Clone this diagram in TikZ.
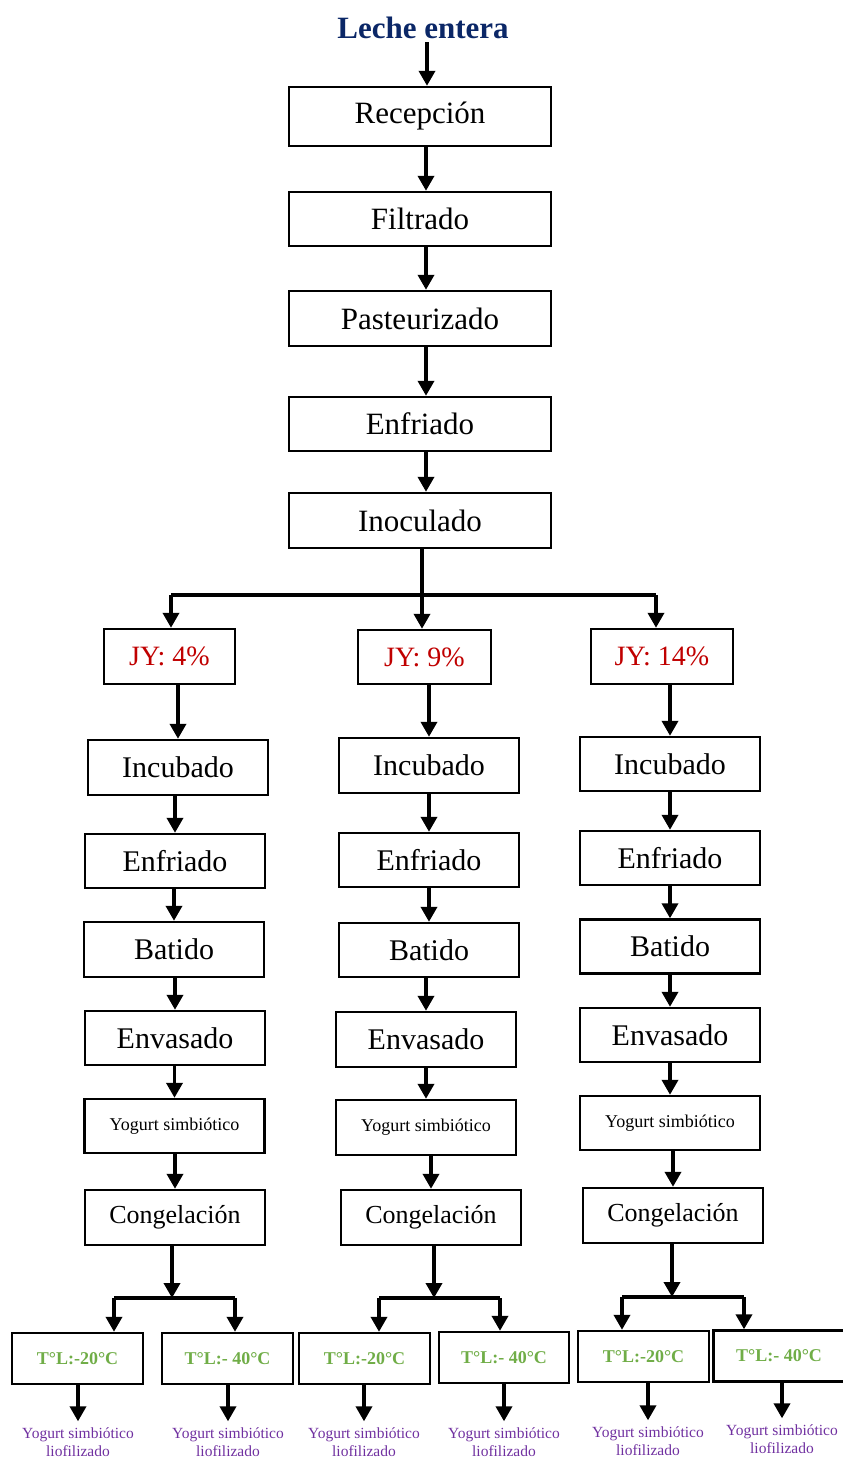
\documentclass[tikz,border=0pt]{standalone}
\usepackage{fontspec}
\setmainfont{Liberation Serif}
\usepackage{xcolor}
\usepackage{tikz}
\usetikzlibrary{arrows.meta, positioning, calc}
\definecolor{titleblue}{HTML}{0B2767}
\definecolor{jyred}{HTML}{C00000}
\definecolor{tgreen}{HTML}{70AD47}
\definecolor{prodpurple}{HTML}{7030A0}
\tikzset{
    proc/.style={
        rectangle,
        draw=black,
        line width=2.4pt,
        inner sep=0pt,
        minimum width=180pt,
        minimum height=54pt,
        font=\fontsize{30}{36}\selectfont,
    },
    main/.style={
        proc,
        minimum width=262pt,
        font=\fontsize{31}{36}\selectfont,
    },
    jy/.style={
        proc,
        text=jyred,
        minimum width=131pt,
        minimum height=55pt,
        font=\fontsize{28}{32}\selectfont,
    },
    temp/.style={
        proc,
        text=tgreen,
        minimum width=131pt,
        minimum height=51pt,
        font=\fontsize{18}{20}\selectfont\bfseries,
    },
    prod/.style={
        align=center,
        text=prodpurple,
        inner sep=1pt,
        font=\fontsize{15.5}{18}\selectfont,
    },
    flow/.style={
        -{Triangle[width=16pt,length=15pt]},
        line width=3.6pt,
    },
    bar/.style={
        line width=4pt,
    },
}
\begin{document}
\begin{tikzpicture}[x=1pt,y=-1pt]
          \useasboundingbox (0,0) rectangle (843,1459);
          % main line
          \node [font=\fontsize{31}{36}\selectfont\bfseries, text=titleblue] (title) at (423,28) {Leche entera};
          \node [main, minimum height=59pt] (rec) at (420,116.5) {Recepción};
          \node [main] (fil) at (420,219) {Filtrado};
          \node [main, minimum height=55pt] (pas) at (420,318.5) {Pasteurizado};
          \node [main] (enf) at (420,424) {Enfriado};
          \node [main, minimum height=55pt] (inoc) at (420,520.5) {Inoculado};

          \draw[flow] ([xshift=4pt]title.south) -- ([xshift=7pt]rec.north);
          \draw[flow] ([xshift=6pt]rec.south) -- ([xshift=6pt]fil.north);
          \draw[flow] ([xshift=6pt]fil.south) -- ([xshift=6pt]pas.north);
          \draw[flow] ([xshift=6pt]pas.south) -- ([xshift=6pt]enf.north);
          \draw[flow] ([xshift=6pt]enf.south) -- ([xshift=6pt]inoc.north);

          % JY
          \node [jy] (jy1) at (169.5,656.5) {JY: 4\%};
          \node [jy, minimum width=133pt, minimum height=54pt] (jy2) at (424.5,657) {JY: 9\%};
          \node [jy, minimum width=142pt] (jy3) at (662,656.5) {JY: 14\%};

          \coordinate (split) at (422,595);
          \coordinate (sl) at (171,595);
          \coordinate (sr) at (656,595);
          \draw[bar] (sl) -- (sr);
          \draw[flow] (split |- inoc.south) -- (split |- jy2.north);
          \draw[flow] (sl) -- (sl |- jy1.north);
          \draw[flow] (sr) -- (sr |- jy3.north);

          % column 1
          \node [proc, minimum height=55pt] (inc1) at (178,767.5) {Incubado};
          \node [proc] (enf1) at (175,861) {Enfriado};
          \node [proc, minimum height=55pt] (bat1) at (174,949.5) {Batido};
          \node [proc] (env1) at (175,1038) {Envasado};
          \node [proc, font=\fontsize{18}{20}\selectfont] (yog1) at (174.5,1126) {Yogurt simbiótico};
          \node [proc, minimum height=55pt, font=\fontsize{26}{30}\selectfont] (cong1) at (175,1217.5) {Congelación};

          % column 2
          \node [proc, minimum height=55pt] (inc2) at (429,765.5) {Incubado};
          \node [proc] (enf2) at (429,860) {Enfriado};
          \node [proc] (bat2) at (429,950) {Batido};
          \node [proc, minimum height=55pt] (env2) at (426,1039.5) {Envasado};
          \node [proc, minimum height=55pt, font=\fontsize{18}{20}\selectfont] (yog2) at (426,1127.5) {Yogurt simbiótico};
          \node [proc, minimum height=55pt, font=\fontsize{26}{30}\selectfont] (cong2) at (431,1217.5) {Congelación};

          % column 3
          \node [proc] (inc3) at (670,764) {Incubado};
          \node [proc] (enf3) at (670,858) {Enfriado};
          \node [proc] (bat3) at (670,946.5) {Batido};
          \node [proc] (env3) at (670,1035) {Envasado};
          \node [proc, font=\fontsize{18}{20}\selectfont] (yog3) at (670,1123) {Yogurt simbiótico};
          \node [proc, minimum height=55pt, font=\fontsize{26}{30}\selectfont] (cong3) at (673,1215.5) {Congelación};

          \draw[flow] (inc1.north |- jy1.south) -- (inc1.north);
          \draw[flow] (enf1.north |- inc1.south) -- (enf1.north);
          \draw[flow] (bat1.north |- enf1.south) -- (bat1.north);
          \draw[flow] (env1.north |- bat1.south) -- (env1.north);
          \draw[flow] (yog1.north |- env1.south) -- (yog1.north);
          \draw[flow] (cong1.north |- yog1.south) -- (cong1.north);

          \draw[flow] (inc2.north |- jy2.south) -- (inc2.north);
          \draw[flow] (enf2.north |- inc2.south) -- (enf2.north);
          \draw[flow] (bat2.north |- enf2.south) -- (bat2.north);
          \draw[flow] (env2.north |- bat2.south) -- (env2.north);
          \draw[flow] (yog2.north |- env2.south) -- (yog2.north);
          \draw[flow] (cong2.north |- yog2.south) -- (cong2.north);

          \draw[flow] (inc3.north |- jy3.south) -- (inc3.north);
          \draw[flow] (enf3.north |- inc3.south) -- (enf3.north);
          \draw[flow] (bat3.north |- enf3.south) -- (bat3.north);
          \draw[flow] (env3.north |- bat3.south) -- (env3.north);
          \draw[flow] (yog3.north |- env3.south) -- (yog3.north);
          \draw[flow] (cong3.north |- yog3.south) -- (cong3.north);

          % freezing temperatures
          \node [temp] (t11) at (77.5,1358.5) {T°L:-20°C};
          \node [temp] (t12) at (227.5,1358.5) {T°L:- 40°C};
          \node [temp] (t21) at (364.5,1358.5) {T°L:-20°C};
          \node [temp, minimum width=130pt] (t22) at (504,1357.5) {T°L:- 40°C};
          \node [temp] (t31) at (643.5,1356.5) {T°L:-20°C};
          \node [temp] (t32) at (779,1356) {T°L:- 40°C};

          \coordinate (m1) at (172,1298);
          \coordinate (m1l) at (114,1298);
          \coordinate (m1r) at (235,1298);
          \coordinate (m2) at (434,1298);
          \coordinate (m2l) at (379,1298);
          \coordinate (m2r) at (500,1298);
          \coordinate (m3) at (672,1297);
          \coordinate (m3l) at (622,1297);
          \coordinate (m3r) at (744,1297);

          \draw[flow] (m1 |- cong1.south) -- (m1);
          \draw[bar] (m1l) -- (m1r);
          \draw[flow] (m1l) -- (m1l |- t11.north);
          \draw[flow] (m1r) -- (m1r |- t12.north);

          \draw[flow] (m2 |- cong2.south) -- (m2);
          \draw[bar] (m2l) -- (m2r);
          \draw[flow] (m2l) -- (m2l |- t21.north);
          \draw[flow] (m2r) -- (m2r |- t22.north);

          \draw[flow] (m3 |- cong3.south) -- (m3);
          \draw[bar] (m3l) -- (m3r);
          \draw[flow] (m3l) -- (m3l |- t31.north);
          \draw[flow] (m3r) -- (m3r |- t32.north);

          % final products
          \node [prod] (y11) at (78,1442) {Yogurt simbiótico\\liofilizado};
          \node [prod] (y12) at (228,1442) {Yogurt simbiótico\\liofilizado};
          \node [prod] (y21) at (364,1442) {Yogurt simbiótico\\liofilizado};
          \node [prod] (y22) at (504,1442) {Yogurt simbiótico\\liofilizado};
          \node [prod] (y31) at (648,1441) {Yogurt simbiótico\\liofilizado};
          \node [prod] (y32) at (782,1439) {Yogurt simbiótico\\liofilizado};

          \draw[flow] (y11.north |- t11.south) -- ([yshift=5pt]y11.north);
          \draw[flow] (y12.north |- t12.south) -- ([yshift=5pt]y12.north);
          \draw[flow] (y21.north |- t21.south) -- ([yshift=5pt]y21.north);
          \draw[flow] (y22.north |- t22.south) -- ([yshift=5pt]y22.north);
          \draw[flow] (y31.north |- t31.south) -- ([yshift=5pt]y31.north);
          \draw[flow] (y32.north |- t32.south) -- ([yshift=5pt]y32.north);
        \end{tikzpicture}
\end{document}
